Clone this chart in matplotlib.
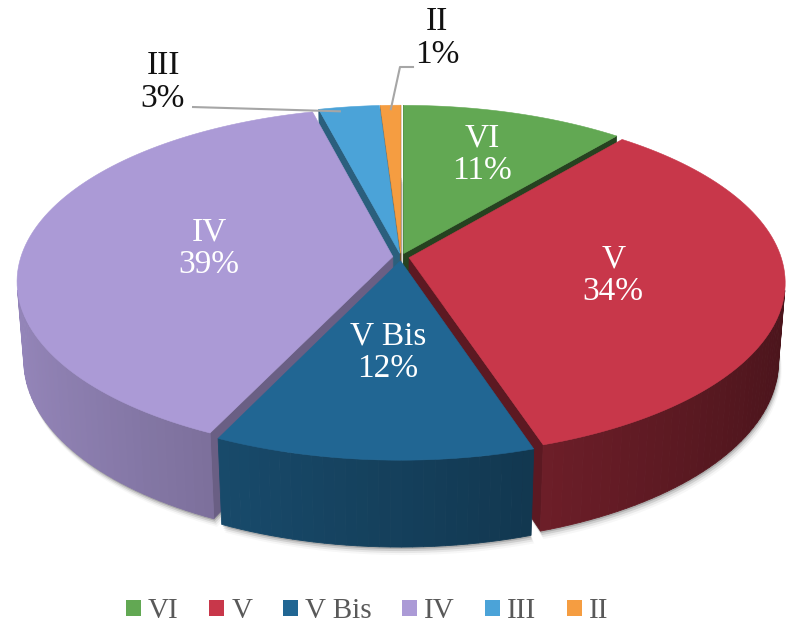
import numpy as np
import matplotlib.pyplot as plt
from matplotlib.patches import Polygon, Patch
from matplotlib.colors import to_rgb

plt.rcParams['font.family'] = ['Liberation Serif', 'DejaVu Serif']

# data
labels = ['VI', 'V', 'V Bis', 'IV', 'III', 'II']
shares = [11, 34, 12, 39, 3, 1]
colors = ['#62A853', '#C8374A', '#216693', '#AB9AD6', '#4BA3D8', '#F59D41']

# camera / pie geometry (pixels)
tilt = np.radians(27.2)
dist = 6.28
focal = 2336.0
cx, cy = 401.0, 257.0
depth = 0.24
explode = 0.022
label_r = [0.68, 0.55, 0.5, 0.5, None, None]

S, C = np.sin(tilt), np.cos(tilt)
cam = np.array([0.0, dist * S, -dist * C])


def project(x, y, z):
    zc = dist - y * S + z * C
    yc = y * C + z * S
    return cx + focal * x / zc, cy - focal * yc / zc


def shade(col, f):
    r, g, b = to_rgb(col)
    return (r * f, g * f, b * f)


def side_f(th):
    return 0.62 - 0.25 * np.sin(th)


def visible(p, n):
    return np.dot(n, cam - p) > 0


fig = plt.figure(figsize=(7.9, 6.25), dpi=100)
ax = fig.add_axes([0, 0, 1, 1])
ax.set_xlim(0, 790)
ax.set_ylim(625, 0)
ax.axis('off')

total = float(sum(shares))
bounds = np.concatenate([[0], np.cumsum(shares)]) / total * 2 * np.pi

slices = []
for i in range(len(shares)):
    a0, a1 = bounds[i], bounds[i + 1]
    m = 0.5 * (a0 + a1)
    ox, oz = explode * np.sin(m), explode * np.cos(m)
    th = np.linspace(a0, a1, max(3, int(np.degrees(a1 - a0) / 1.5) + 2))
    slices.append(dict(a0=a0, a1=a1, m=m, ox=ox, oz=oz, th=th))

# drop shadow under the pie
for off, al in [(2, 0.22), (4, 0.14), (6, 0.08), (8, 0.04)]:
    for s in slices:
        xs = np.concatenate([[s['ox']], s['ox'] + np.sin(s['th'])])
        zs = np.concatenate([[s['oz']], s['oz'] + np.cos(s['th'])])
        px, py = project(xs, -depth * np.ones_like(xs), zs)
        ax.add_patch(Polygon(np.c_[px + off * 0.4, py + off], closed=True,
                             facecolor='#3a3a3a', edgecolor='none', alpha=al))


def depth_key(s):
    z = s['oz'] + 0.5 * np.cos(s['m'])
    return dist + depth / 2 * S + z * C


for i in sorted(range(len(slices)), key=lambda k: -depth_key(slices[k])):
    s = slices[i]
    col = colors[i]
    ox, oz, th = s['ox'], s['oz'], s['th']

    # radial faces
    for a, nd in [(s['a0'], s['a0'] - np.pi / 2), (s['a1'], s['a1'] + np.pi / 2)]:
        n = np.array([np.sin(nd), 0, np.cos(nd)])
        p = np.array([ox + 0.5 * np.sin(a), -depth / 2, oz + 0.5 * np.cos(a)])
        if visible(p, n):
            xs = np.array([ox, ox + np.sin(a), ox + np.sin(a), ox])
            ys = np.array([0, 0, -depth, -depth])
            zs = np.array([oz, oz + np.cos(a), oz + np.cos(a), oz])
            px, py = project(xs, ys, zs)
            fc = shade(col, 0.85 * side_f(a))
            ax.add_patch(Polygon(np.c_[px, py], closed=True, facecolor=fc,
                                 edgecolor=fc, linewidth=0.5))

    # outer curved side, in strips for the gradient
    for j in range(len(th) - 1):
        t0, t1 = th[j], th[j + 1]
        tm = 0.5 * (t0 + t1)
        n = np.array([np.sin(tm), 0, np.cos(tm)])
        p = np.array([ox + np.sin(tm), -depth / 2, oz + np.cos(tm)])
        if not visible(p, n):
            continue
        xs = ox + np.sin([t0, t1, t1, t0])
        zs = oz + np.cos([t0, t1, t1, t0])
        ys = np.array([0, 0, -depth, -depth])
        px, py = project(xs, ys, zs)
        fc = shade(col, side_f(tm))
        ax.add_patch(Polygon(np.c_[px, py], closed=True, facecolor=fc,
                             edgecolor=fc, linewidth=0.6))

    # top face
    xs = np.concatenate([[ox], ox + np.sin(th)])
    zs = np.concatenate([[oz], oz + np.cos(th)])
    px, py = project(xs, np.zeros_like(xs), zs)
    ax.add_patch(Polygon(np.c_[px, py], closed=True, facecolor=col,
                         edgecolor=col, linewidth=0.4))

# data labels inside
for i, s in enumerate(slices):
    if label_r[i] is None:
        continue
    r = label_r[i]
    lx, ly = project(s['ox'] + r * np.sin(s['m']), 0.0, s['oz'] + r * np.cos(s['m']))
    ax.text(lx, ly, f"{labels[i]}\n{shares[i]}%", ha='center', va='center',
            color='white', fontsize=24, linespacing=1.1)

# outside labels with leader lines
s = slices[4]
ex, ey = project(s['ox'] + 0.97 * np.sin(s['m'] - 0.03), 0.0,
                 s['oz'] + 0.97 * np.cos(s['m'] - 0.03))
ax.plot([192, ex], [107, ey], color='#A6A6A6', lw=1.5, solid_capstyle='butt')
ax.text(163, 82, f"{labels[4]}\n{shares[4]}%", ha='center', va='center',
        color='#111111', fontsize=24, linespacing=1.1)

s = slices[5]
ex, ey = project(s['ox'] + 0.97 * np.sin(s['m']), 0.0,
                 s['oz'] + 0.97 * np.cos(s['m']))
ax.plot([413, 400, ex], [67, 67, ey], color='#A6A6A6', lw=1.5)
ax.text(437, 38, f"{labels[5]}\n{shares[5]}%", ha='center', va='center',
        color='#111111', fontsize=24, linespacing=1.1)

handles = [Patch(facecolor=c, edgecolor='none') for c in colors]
fig.legend(handles, labels, loc='center', ncol=6, frameon=False,
           bbox_to_anchor=(0.465, 0.022), fontsize=21, handlelength=0.5,
           handleheight=0.5, handletextpad=0.25, columnspacing=1.05,
           borderpad=0.0, labelcolor='#595959')

fig.savefig('out.png', dpi=100)
